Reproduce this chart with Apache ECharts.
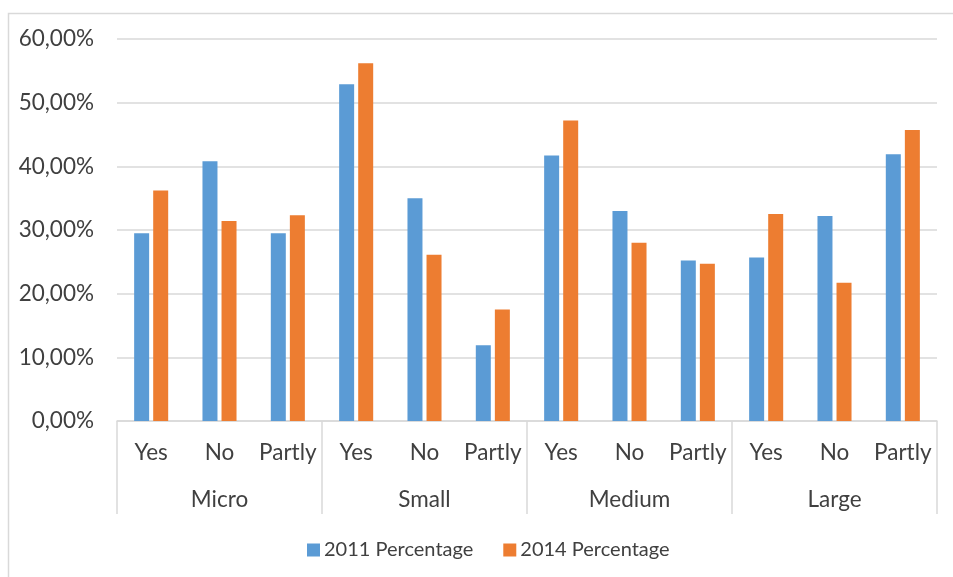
<!DOCTYPE html>
<html>
<head>
<meta charset="utf-8">
<script src="https://cdn.jsdelivr.net/npm/echarts@6/dist/echarts.min.js"></script>
<style>
html,body{margin:0;padding:0;background:#fff;}
#chart{width:953px;height:577px;}
</style>
</head>
<body>
<div id="chart"></div>
<script>
const answers = ['Yes','No','Partly','Yes','No','Partly','Yes','No','Partly','Yes','No','Partly'];
const groups = ['Micro','Small','Medium','Large'];
const seriesNames = ['2011 Percentage','2014 Percentage'];
const values2011 = [29.5, 40.8, 29.5, 52.9, 35.0, 11.9, 41.7, 33.0, 25.2, 25.7, 32.2, 41.9];
const values2014 = [36.2, 31.4, 32.3, 56.2, 26.1, 17.5, 47.2, 28.0, 24.7, 32.5, 21.7, 45.7];
const yTicks = [0, 10, 20, 30, 40, 50, 60];

const FONT = 'Lato';
const TXT = '#404040';
const GRIDC = '#d9d9d9';
const AXFS = 22.5;

const chart = echarts.init(document.getElementById('chart'), null, {renderer:'canvas'});
chart.setOption({
  animation: false,
  backgroundColor: '#fff',
  textStyle: {fontFamily: FONT},
  graphic: [{
    type: 'rect', left: 6, top: 11, silent: true,
    shape: {width: 1000, height: 600},
    style: {fill: 'none', stroke: GRIDC, lineWidth: 1.5}
  }],
  grid: {left: 117, right: 16, top: 39, bottom: 156, containLabel: false},
  legend: {
    data: seriesNames,
    left: 307, top: 540, padding: 0,
    itemWidth: 13, itemHeight: 13, itemGap: 30,
    icon: 'rect',
    textStyle: {fontFamily: FONT, fontSize: 20, color: TXT, padding: [0,0,0,-1]}
  },
  xAxis: [{
    type: 'category', data: answers, position: 'bottom',
    axisLine: {show: true, lineStyle: {color: GRIDC, width: 1.5}},
    axisTick: {show: false},
    axisLabel: {fontFamily: FONT, fontSize: AXFS, color: TXT, margin: 20, interval: 0}
  },{
    type: 'category', data: groups, position: 'bottom',
    axisLine: {show: false},
    axisTick: {show: true, length: 93, lineStyle: {color: GRIDC, width: 1.5}, alignWithLabel: false},
    axisLabel: {fontFamily: FONT, fontSize: AXFS, color: TXT, margin: 67, interval: 0}
  }],
  yAxis: {
    type: 'value', min: yTicks[0], max: yTicks[yTicks.length-1], interval: 10,
    axisLine: {show: false}, axisTick: {show: false},
    splitLine: {lineStyle: {color: GRIDC, width: 1.5}},
    axisLabel: {fontFamily: FONT, fontSize: AXFS, color: TXT, margin: 23,
      formatter: v => v.toFixed(2).replace('.', ',') + '%'}
  },
  series: [{
    name: seriesNames[0], type: 'bar', xAxisIndex: 0, data: values2011,
    barWidth: 15, barGap: '27%',
    itemStyle: {color: '#5B9BD5'}
  },{
    name: seriesNames[1], type: 'bar', xAxisIndex: 0, data: values2014,
    barWidth: 15, barGap: '27%',
    itemStyle: {color: '#ED7D31'}
  }]
});
</script>
</body>
</html>
